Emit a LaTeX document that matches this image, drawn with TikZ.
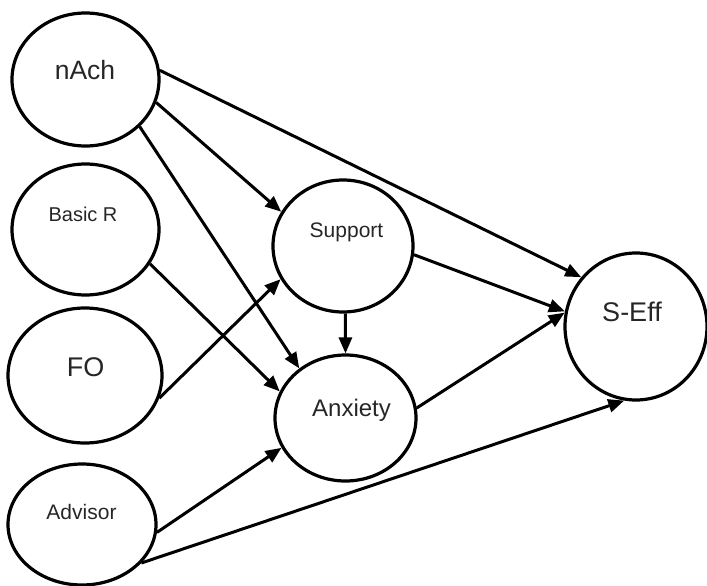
\documentclass[tikz,border=0pt]{standalone}
\usepackage{fontspec}
\setmainfont{Liberation Sans}
\usetikzlibrary{shapes.geometric,arrows.meta}
\begin{document}
\begin{tikzpicture}[x=1pt,y=-1pt,
  var/.style={draw=black, ellipse, line width=3.2pt, inner sep=0pt},
  lbl/.style={anchor=base, inner sep=0pt, text=black!85},
  conn/.style={line width=3pt, -{Triangle[length=16pt,width=13pt]}}]
\useasboundingbox (0,0) rectangle (707,586);
% variables
\node[var, minimum width=147pt, minimum height=133pt] (nAch) at (85.5,79.5) {};
\node[var, minimum width=147pt, minimum height=131pt] (BasicR) at (85.5,229.5) {};
\node[var, minimum width=154pt, minimum height=135pt] (FO) at (85,375.5) {};
\node[var, minimum width=148pt, minimum height=121pt] (Advisor) at (82,524.5) {};
\node[var, minimum width=140pt, minimum height=132pt] (Support) at (343,246) {};
\node[var, minimum width=141pt, minimum height=126pt] (Anxiety) at (345.5,418) {};
\node[var, minimum width=142pt, minimum height=147pt] (SEff) at (636,326.5) {};
% labels
\node[lbl, font=\fontsize{26.5}{30}\selectfont] (nAchL) at (85,80) {nAch};
\node[lbl, font=\fontsize{20}{24}\selectfont] (BasicRL) at (83,221.7) {Basic R};
\node[lbl, font=\fontsize{27}{31}\selectfont] (FOL) at (85.5,376) {FO};
\node[lbl, font=\fontsize{21}{25}\selectfont] (AdvisorL) at (81.5,519) {Advisor};
\node[lbl, font=\fontsize{21}{25}\selectfont] (SupportL) at (346.5,237.3) {Support};
\node[lbl, font=\fontsize{24}{28}\selectfont] (AnxietyL) at (351.5,416) {Anxiety};
\node[lbl, font=\fontsize{27}{31}\selectfont] (SEffL) at (632,321.7) {S-Eff};
% paths
\draw[conn] (nAch.7) -- (SEff.138);
\draw[conn] (nAch.-18) -- (Support.151);
\draw[conn] (nAch.-41) -- (Anxiety.133);
\draw[conn] (BasicR.-28) -- (Anxiety.158);
\draw[conn] (FO.-17) -- (Support.208);
\draw[conn] (Support.-88) -- (Anxiety.90);
\draw[conn] (Support.-7) -- (SEff.168);
\draw[conn] (Anxiety.8) -- (SEff.169);
\draw[conn] (Advisor.-6) -- (Anxiety.205);
\draw[conn] (Advisor.-33) -- (SEff.261);
\end{tikzpicture}
\end{document}
